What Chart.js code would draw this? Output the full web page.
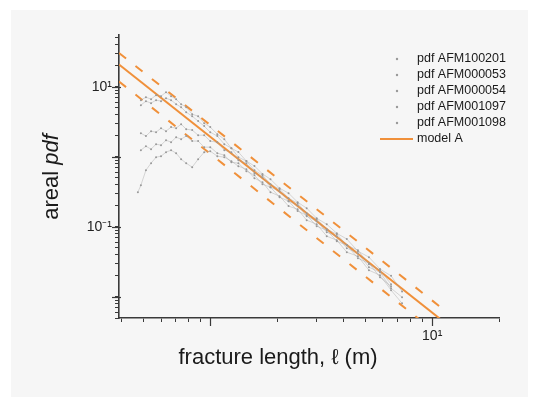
<!DOCTYPE html>
<html>
<head>
<meta charset="utf-8">
<script src="https://cdn.jsdelivr.net/npm/chart.js@4.4.0/dist/chart.umd.min.js"></script>
<style>
html,body{margin:0;padding:0;background:#fff;}
#wrap{width:535px;height:412px;}
</style>
</head>
<body>
<div id="wrap"><canvas id="pdfChart" width="535" height="412"></canvas></div>
<script>

// fracture length bins (m), shared by the five scans
const lengths=[0.472,0.487,0.513,0.541,0.570,0.600,0.632,0.666,0.702,0.739,0.779,0.829,0.882,0.939,1.00,1.076,1.157,1.245,1.339,1.455,1.582,1.719,1.868,2.052,2.254,2.476,2.719,3.017,3.349,3.717,4.125,4.627,5.187,5.818,6.526,7.317];

// areal pdf per scan
const pdf100201=[null,6.46,7.13,6.67,7.61,7.36,8.40,7.36,6.67,5.66,5.13,4.07,3.81,3.03,2.66,2.11,1.79,1.33,1.17,0.87,0.74,0.57,0.48,0.357,0.303,0.225,0.185,0.133,0.109,0.081,0.067,0.045,0.037,0.025,0.020,0.012];
const pdf000053=[null,5.48,6.25,5.85,6.46,6.25,6.90,6.46,5.66,5.13,4.35,3.81,3.24,2.75,2.25,1.98,1.52,1.33,0.99,0.87,0.646,0.548,0.407,0.346,0.257,0.218,0.157,0.129,0.0927,0.0787,0.0548,0.0465,0.0293,0.0241,0.0152,null];
const pdf000054=[null,2.18,1.98,2.33,2.25,2.57,2.33,2.66,2.57,2.93,2.49,2.41,2.04,2.04,1.68,1.62,1.246,1.167,0.897,0.813,0.585,0.513,0.369,0.324,0.233,0.204,0.142,0.1206,0.084,0.0737,0.0496,0.0421,0.0266,0.0225,0.0133,0.0099];
const pdf001097=[null,1.246,1.422,1.288,1.52,1.469,1.732,1.62,1.91,1.79,1.98,1.68,1.68,1.376,1.376,1.129,1.057,0.840,0.813,0.625,0.548,0.407,0.369,0.266,0.233,0.168,0.147,0.1023,0.0897,0.0625,0.0548,0.0357,0.0303,0.0191,0.0142,null];
const pdf001098=[0.313,0.394,0.646,0.813,0.99,1.023,1.167,1.246,1.129,0.927,0.813,0.713,0.927,1.167,1.206,1.023,0.99,0.868,0.736,0.667,0.496,0.435,0.313,0.275,0.198,0.179,0.1247,0.1093,0.0737,0.0646,0.0435,0.0381,0.0241,0.0204,0.0125,0.0081];

// model A power law and its bounds, end points
const modelLength=[0.388,11];
const modelA=[20.8,0.0047];
const modelHigh=[30.5,0.0070];
const modelLow=[11.9,0.0027];

// labelled decades
const xTickLabels={10:'10¹'};
const yTickLabels={10:'10¹',0.1:'10⁻¹'};

const FONT='"Liberation Sans", Arial, sans-serif';
const ORANGE='#f0903a';

function logTicks(lo,hi){
  const out=[];
  for(let e=-3;e<=2;e++){
    for(let m=1;m<=9;m++){
      const v=+(m*Math.pow(10,e)).toPrecision(3);
      if(v>=lo&&v<=hi)out.push(v);
    }
  }
  return out;
}

const scans=[
  ['pdf AFM100201',pdf100201],
  ['pdf AFM000053',pdf000053],
  ['pdf AFM000054',pdf000054],
  ['pdf AFM001097',pdf001097],
  ['pdf AFM001098',pdf001098]
];

const datasets=scans.map(([label,vals])=>({
  label:label,
  data:lengths.map((x,i)=>({x:x,y:vals[i]})).filter(p=>p.y!=null),
  showLine:true,
  borderColor:'rgba(160,160,160,0.5)',
  borderWidth:0.8,
  pointRadius:1,
  pointBorderWidth:0,
  pointBackgroundColor:'#999'
}));

function modelSet(label,vals,dash,hidden){
  return {
    label:label,
    data:modelLength.map((x,i)=>({x:x,y:vals[i]})),
    showLine:true,
    borderColor:ORANGE,
    borderWidth:2,
    borderDash:dash,
    pointRadius:0,
    noLegend:hidden
  };
}
datasets.push(modelSet('model A',modelA,[],false));
datasets.push(modelSet('upper',modelHigh,[9,12],true));
datasets.push(modelSet('lower',modelLow,[9,12],true));

// grey panel behind the figure
const paper={id:'paper',beforeDraw(chart){
  const c=chart.ctx;
  c.save();
  c.fillStyle='#fff';
  c.fillRect(0,0,chart.width,chart.height);
  c.fillStyle='#f6f6f6';
  c.fillRect(11,10,517,387);
  c.restore();
}};

// longer marks on the decade ticks
const decadeTicks={id:'decadeTicks',afterDraw(chart){
  const c=chart.ctx,xs=chart.scales.x,ys=chart.scales.y;
  c.save();
  c.strokeStyle='#3a3a3a';
  c.lineWidth=1.2;
  [1,10].forEach(v=>{
    const px=Math.round(xs.getPixelForValue(v))+0.5;
    c.beginPath();c.moveTo(px,ys.bottom);c.lineTo(px,ys.bottom+8);c.stroke();
  });
  [0.01,0.1,1,10].forEach(v=>{
    const py=Math.round(ys.getPixelForValue(v))+0.5;
    c.beginPath();c.moveTo(xs.left-7,py);c.lineTo(xs.left+2,py);c.stroke();
  });
  c.restore();
}};

// axis titles, with italic parts
const axisTitles={id:'axisTitles',afterDraw(chart){
  const c=chart.ctx;
  c.save();
  c.fillStyle='#1a1a1a';
  c.textBaseline='middle';
  c.textAlign='center';
  c.font='22px '+FONT;
  c.fillText('fracture length, ℓ (m)',278,358);

  c.translate(52,177);
  c.rotate(-Math.PI/2);
  const a='areal ',b='pdf';
  c.font='22px '+FONT;
  const wa=c.measureText(a).width;
  c.font='italic 22px '+FONT;
  const wb=c.measureText(b).width;
  let x=-(wa+wb)/2;
  c.textAlign='left';
  c.font='22px '+FONT;
  c.fillText(a,x,0);
  c.font='italic 22px '+FONT;
  c.fillText(b,x+wa,0);
  c.restore();
}};

// legend inside the plot, top right
const insetLegend={id:'insetLegend',afterDraw(chart){
  const c=chart.ctx;
  c.save();
  c.font='12.5px '+FONT;
  c.textBaseline='middle';
  let y=59;
  chart.data.datasets.forEach(ds=>{
    if(ds.noLegend)return;
    if(ds.pointRadius===0){
      c.strokeStyle=ds.borderColor;
      c.lineWidth=2;
      c.beginPath();c.moveTo(380,y);c.lineTo(413,y);c.stroke();
    }else{
      c.fillStyle=ds.pointBackgroundColor;
      c.beginPath();c.arc(397,y,1.2,0,Math.PI*2);c.fill();
    }
    c.fillStyle='#1a1a1a';
    c.fillText(ds.label,417,y);
    y+=16;
  });
  c.restore();
}};

const pdfChart=document.getElementById('pdfChart');

new Chart(pdfChart,{
  type:'scatter',
  data:{datasets:datasets},
  options:{
    responsive:false,
    animation:false,
    devicePixelRatio:1,
    layout:{padding:{left:0,top:35,right:36,bottom:0}},
    plugins:{legend:{display:false},tooltip:{enabled:false}},
    scales:{
      x:{
        type:'logarithmic',
        min:0.388,max:20,
        afterFit(s){s.height=94;},
        afterBuildTicks(s){s.ticks=logTicks(s.min,s.max).map(v=>({value:v}));},
        border:{color:'#3a3a3a',width:1.6},
        grid:{drawOnChartArea:false,tickLength:4,color:'#3a3a3a'},
        ticks:{autoSkip:false,maxRotation:0,padding:6,color:'#222',font:{family:FONT,size:14},callback:v=>xTickLabels[v]||''}
      },
      y:{
        type:'logarithmic',
        min:0.005,max:55,
        afterFit(s){s.width=119;},
        afterBuildTicks(s){s.ticks=logTicks(s.min,s.max).map(v=>({value:v}));},
        border:{color:'#3a3a3a',width:1.6},
        grid:{drawOnChartArea:false,tickLength:4,color:'#3a3a3a'},
        ticks:{autoSkip:false,padding:3,color:'#222',font:{family:FONT,size:14},callback:v=>yTickLabels[v]||''}
      }
    }
  },
  plugins:[paper,decadeTicks,axisTitles,insetLegend]
});

</script>
</body>
</html>
